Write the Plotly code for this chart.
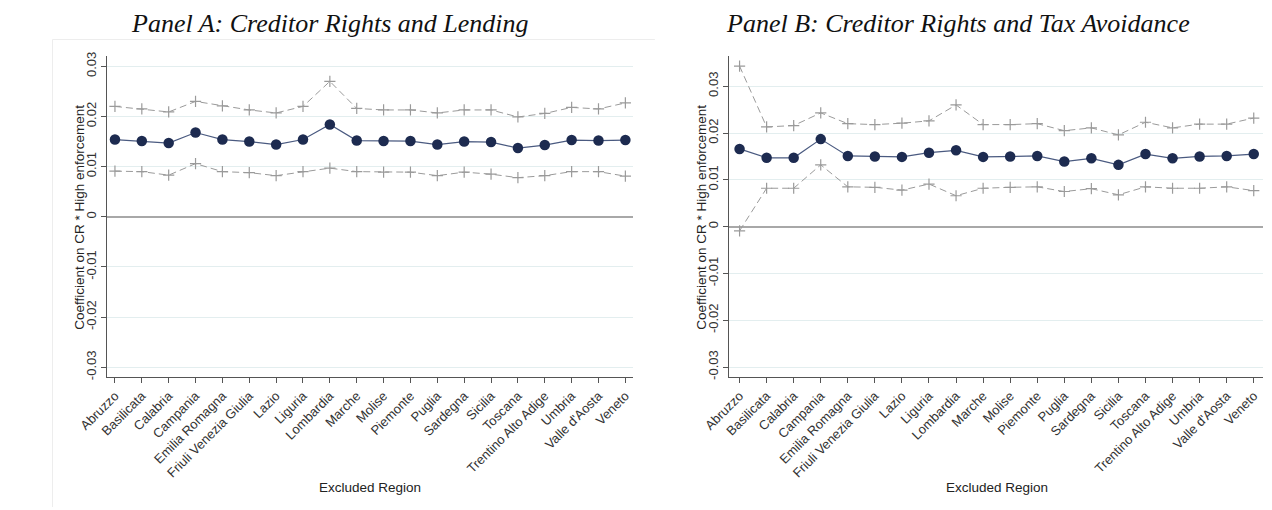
import plotly.graph_objects as go

regions = ["Abruzzo", "Basilicata", "Calabria", "Campania", "Emilia Romagna",
           "Friuli Venezia Giulia", "Lazio", "Liguria", "Lombardia", "Marche",
           "Molise", "Piemonte", "Puglia", "Sardegna", "Sicilia", "Toscana",
           "Trentino Alto Adige", "Umbria", "Valle d'Aosta", "Veneto"]

# Panel A: Creditor Rights and Lending
a_coef = [0.0154, 0.0151, 0.0147, 0.0168, 0.0154, 0.0150, 0.0144, 0.0154, 0.0184, 0.0152,
          0.0151, 0.0151, 0.0144, 0.0150, 0.0149, 0.0137, 0.0143, 0.0153, 0.0152, 0.0153]
a_upper = [0.0220, 0.0215, 0.0209, 0.0230, 0.0221, 0.0213, 0.0207, 0.0220, 0.0270, 0.0216,
           0.0213, 0.0213, 0.0207, 0.0213, 0.0213, 0.0199, 0.0206, 0.0218, 0.0215, 0.0227]
a_lower = [0.0091, 0.0090, 0.0083, 0.0106, 0.0090, 0.0088, 0.0082, 0.0090, 0.0097, 0.0090,
           0.0089, 0.0089, 0.0082, 0.0089, 0.0085, 0.0078, 0.0082, 0.0090, 0.0090, 0.0081]

# Panel B: Creditor Rights and Tax Avoidance
b_coef = [0.0166, 0.0147, 0.0147, 0.0187, 0.0151, 0.0150, 0.0149, 0.0158, 0.0163, 0.0149,
          0.0150, 0.0151, 0.0139, 0.0146, 0.0132, 0.0155, 0.0146, 0.0150, 0.0151, 0.0155]
b_upper = [0.0343, 0.0213, 0.0216, 0.0243, 0.0220, 0.0218, 0.0221, 0.0226, 0.0260, 0.0218,
           0.0218, 0.0220, 0.0205, 0.0211, 0.0196, 0.0223, 0.0211, 0.0219, 0.0219, 0.0232]
b_lower = [-0.0009, 0.0082, 0.0082, 0.0132, 0.0085, 0.0084, 0.0078, 0.0091, 0.0066, 0.0082,
           0.0084, 0.0085, 0.0075, 0.0081, 0.0068, 0.0085, 0.0082, 0.0082, 0.0085, 0.0077]

y_ticks = [0.03, 0.02, 0.01, 0, -0.01, -0.02, -0.03]
y_ticktext = ["0.03", "0.02", "0.01", "0", "-0.01", "-0.02", "-0.03"]

W, H = 1272, 510
NAVY = "#1d2b50"
GRAY = "#9a9a9a"
FONT = "Liberation Sans, Arial, sans-serif"

fig = go.Figure()


def add_panel(coef, upper, lower, xa, ya):
    for ci in (upper, lower):
        fig.add_trace(go.Scatter(
            x=regions, y=ci, xaxis=xa, yaxis=ya, mode="lines+markers",
            line=dict(color=GRAY, width=1, dash="7px,4px"),
            marker=dict(symbol="cross-thin", size=8, line=dict(color=GRAY, width=1.2)),
            showlegend=False, hoverinfo="skip"))
    fig.add_trace(go.Scatter(
        x=regions, y=coef, xaxis=xa, yaxis=ya, mode="lines+markers",
        line=dict(color="#4a5a80", width=1.2),
        marker=dict(symbol="circle", size=10.5, color=NAVY),
        showlegend=False))


add_panel(a_coef, a_upper, a_lower, "x", "y")
add_panel(b_coef, b_upper, b_lower, "x2", "y2")

ydom = [1 - 378.5 / H, 1 - 53 / H]
xa_common = dict(
    type="category", showline=True, linecolor="#555555", linewidth=1,
    ticks="outside", ticklen=5, tickcolor="#555555", tickangle=-45,
    tickfont=dict(family=FONT, size=13, color="#333333"),
    showgrid=False, zeroline=False, fixedrange=True)
ya_common = dict(
    showline=True, linecolor="#555555", linewidth=1,
    ticks="outside", ticklen=5, tickcolor="#555555", tickangle=-90,
    tickvals=y_ticks, ticktext=y_ticktext,
    tickfont=dict(family=FONT, size=13, color="#333333"),
    showgrid=True, gridcolor="#e3eeef", gridwidth=1,
    zeroline=True, zerolinecolor="#a8a8a8", zerolinewidth=1.5, fixedrange=True)

fig.update_layout(
    width=W, height=H,
    margin=dict(l=0, r=0, t=0, b=0),
    paper_bgcolor="white", plot_bgcolor="white",
    xaxis=dict(xa_common, domain=[79.3 / W, 618 / W], range=[-0.28, 19.3], anchor="y"),
    yaxis=dict(ya_common, domain=ydom, range=[-0.0320, 0.0320], anchor="x"),
    xaxis2=dict(xa_common, domain=[716 / W, 1263 / W], range=[-0.386, 19.35], anchor="y2"),
    yaxis2=dict(ya_common, domain=ydom, range=[-0.0322, 0.0364], anchor="x2"),
)

# faint graph-region frame around panel A
fig.add_shape(type="line", xref="paper", yref="paper", x0=23 / W, x1=640 / W,
              y0=1 - 36 / H, y1=1 - 36 / H, line=dict(color="#ededed", width=1), layer="below")
fig.add_shape(type="line", xref="paper", yref="paper", x0=23 / W, x1=23 / W,
              y0=0, y1=1 - 36 / H, line=dict(color="#ededed", width=1), layer="below")

title_font = dict(family="Liberation Serif, Times New Roman, serif", size=26, color="#111111")
fig.add_annotation(text="<i>Panel A: Creditor Rights and Lending</i>", x=307 / W, y=1 - 20 / H,
                   xref="paper", yref="paper", showarrow=False, font=title_font,
                   xanchor="center", yanchor="middle")
fig.add_annotation(text="<i>Panel B: Creditor Rights and Tax Avoidance</i>", x=950 / W, y=1 - 20 / H,
                   xref="paper", yref="paper", showarrow=False, font=title_font,
                   xanchor="center", yanchor="middle")

axis_title_font = dict(family=FONT, size=13.5, color="#222222")
ycenter = 1 - 216 / H
for xpx in (50, 687):
    fig.add_annotation(text="Coefficient on CR * High enforcement", x=xpx / W, y=ycenter,
                       xref="paper", yref="paper", showarrow=False, textangle=-90,
                       font=axis_title_font, xanchor="center", yanchor="middle")
for xpx in (348, 990):
    fig.add_annotation(text="Excluded Region", x=xpx / W, y=1 - 490 / H,
                       xref="paper", yref="paper", showarrow=False,
                       font=axis_title_font, xanchor="center", yanchor="middle")

fig.write_html("out.html")
